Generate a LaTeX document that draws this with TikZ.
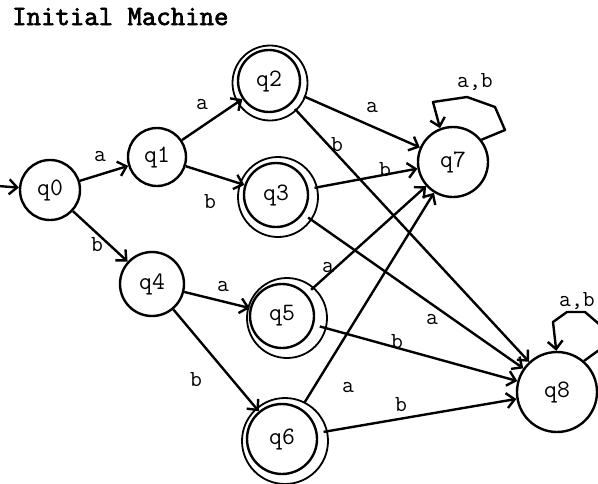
\documentclass[tikz,border=0pt]{standalone}
\usepackage{fontspec}
\newfontfamily\titlefont[FakeBold=2.5]{Latin Modern Mono}
\usetikzlibrary{arrows.meta}
\begin{document}
\begin{tikzpicture}[x=1pt,y=-1pt,
  state/.style={circle,draw,line width=2.4pt,inner sep=0pt,font=\ttfamily\fontsize{25}{25}\selectfont},
  ring/.style={line width=1.8pt},
  tr/.style={line width=2.4pt,-{Straight Barb[length=8pt,width=15pt]}},
  lbl/.style={font=\ttfamily\fontsize{23}{23}\selectfont,inner sep=0pt},
  fromacc/.style={shorten <=6pt}]
\clip (0,0) rectangle (598,483);

% title
\node[font=\titlefont\fontsize{28}{28}\selectfont,anchor=base west,inner sep=0pt] (title) at (12,25) {Initial Machine};

% states
\node[state,minimum size=60pt] (q0) at (50,190) {q0};
\node[state,minimum size=58pt] (q1) at (157,157) {q1};
\node[state,minimum size=62pt] (q2) at (269,81) {q2};
\node[state,minimum size=64pt] (q3) at (276,195) {q3};
\node[state,minimum size=64pt] (q4) at (152,284) {q4};
\node[state,minimum size=64pt] (q5) at (282,316) {q5};
\node[state,minimum size=70pt] (q6) at (282,439) {q6};
\node[state,minimum size=70pt] (q7) at (453,162) {q7};
\node[state,minimum size=80pt] (q8) at (557,392) {q8};

% accepting rings
\draw[ring] ([shift={(1,2)}]q2.center) circle[radius=37.5];
\draw[ring] ([shift={(2,2)}]q3.center) circle[radius=40];
\draw[ring] ([shift={(5,2)}]q5.center) circle[radius=40];
\draw[ring] ([shift={(3,2)}]q6.center) circle[radius=43];

% start arrow
\coordinate (start) at (-2,186);
\draw[tr] (start) -- (q0);

% transitions
\draw[tr] (q0) -- (q1) node[lbl] at (100,157) {a};
\draw[tr] (q1) -- (q2) node[lbl] at (202,105) {a};
\draw[tr] (q1) -- (q3) node[lbl] at (210,202) {b};
\draw[tr] (q0) -- (q4) node[lbl] at (97,245) {b};
\draw[tr,fromacc] (q2) -- (q7) node[lbl] at (372,108) {a};
\draw[tr,fromacc] (q2) -- (q8) node[lbl] at (337,145) {b};
\draw[tr,fromacc] (q3) -- (q7) node[lbl] at (385,170) {b};
\draw[tr,fromacc] (q3) -- (q8) node[lbl] at (432,320) {a};
\draw[tr] (q4) -- (q5) node[lbl] at (223,287) {a};
\draw[tr] (q4) -- (q6) node[lbl] at (196,380) {b};
\draw[tr,fromacc] (q5) -- (q7) node[lbl] at (328,268) {a};
\draw[tr,fromacc] (q5) -- (q8) node[lbl] at (397,342) {b};
\draw[tr,fromacc] (q6) -- (q7) node[lbl] at (348,388) {a};
\draw[tr,fromacc] (q6) -- (q8) node[lbl] at (401,405) {b};

% self loops
\draw[tr,line join=round] (q7.38) -- (505,130) -- (495,107) -- (467,97) -- (433,102) -- (q7.111)
  node[lbl] at (475,82) {a,b};
\draw[tr,line join=round] (q8.49) -- (606,345) -- (606,330) -- (585,312) -- (567,312) -- (553,322) -- (q8.91)
  node[lbl] at (577,301) {a,b};
\end{tikzpicture}
\end{document}
